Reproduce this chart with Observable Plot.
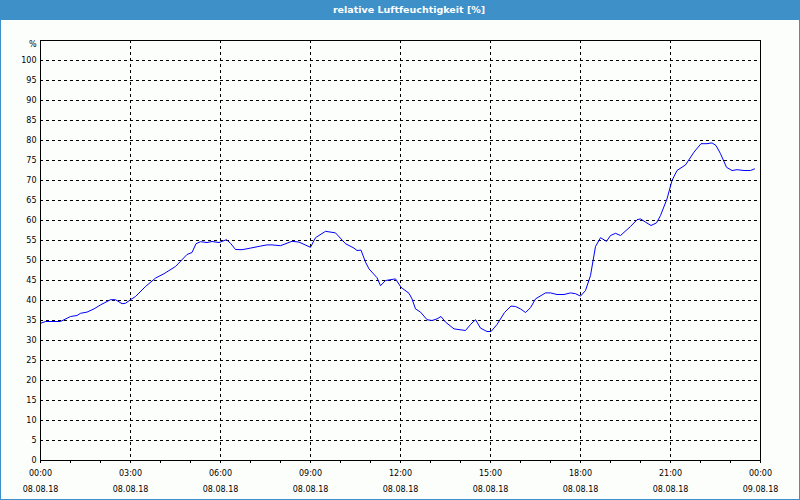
<!DOCTYPE html>
<html>
<head>
<meta charset="utf-8">
<script src="https://cdn.jsdelivr.net/npm/d3@7"></script>
<script src="https://cdn.jsdelivr.net/npm/@observablehq/plot@0.6"></script>
<style>
  html, body { margin: 0; padding: 0; background: #fcfefc; }
  #wrap { position: relative; width: 800px; height: 500px; background: #fcfefc; overflow: hidden; }
  #title { position: absolute; left: 0; top: 0; width: 800px; height: 20px; background: #3d90c8;
           color: #fff; font: bold 9.5px "DejaVu Sans", sans-serif; text-align: center; line-height: 20px; }
  #title span { position: relative; left: 9px; }
  #chart { position: absolute; left: 0; top: 20px; }
  #border { position: absolute; left: 0; top: 0; width: 800px; height: 500px; box-sizing: border-box;
            border: 1px solid #3d90c8; pointer-events: none; }
</style>
</head>
<body>
<div id="wrap">
  <div id="title"><span>relative Luftfeuchtigkeit [%]</span></div>
  <div id="chart"></div>
  <div id="border"></div>
</div>
<script>
// time in minutes after 08.08.18 00:00
const minutes = [0,10,40,60,73,80,93,107,120,140,150,163,170,180,190,210,230,247,270,293,303,311,320,333,343,357,372,380,390,403,420,440,453,463,480,503,517,540,550,570,590,610,627,633,641,650,657,673,680,690,710,721,737,743,750,760,773,783,793,801,810,827,850,860,870,880,893,901,913,928,941,950,960,970,980,990,1010,1020,1033,1047,1060,1070,1080,1090,1100,1110,1120,1132,1140,1150,1160,1180,1193,1200,1210,1221,1232,1240,1253,1263,1273,1290,1307,1321,1333,1343,1351,1360,1372,1383,1393,1407,1420,1428];
const humidity = [34.3,34.75,34.75,36,36.25,36.8,37.1,37.9,38.9,40.2,40.2,39.2,39.3,40.2,41,43.5,45.6,46.7,48.5,51.5,52,54.2,54.7,54.5,54.75,54.5,55.2,54.3,52.75,52.7,53.1,53.6,53.9,53.9,53.7,54.8,54.6,53.3,55.7,57.3,56.9,54.2,53.1,52.5,52.6,49.6,47.9,45.7,43.7,45,45.4,43.3,41.8,40.4,37.9,37.1,35.2,35,35.4,36,34.6,32.9,32.5,34,35.2,33.1,32.25,32.25,34,37,38.6,38.5,37.9,37,38.2,40.4,41.9,41.9,41.5,41.5,41.9,41.7,41.1,42.5,46.25,53.5,55.7,54.8,56.25,56.8,56.25,58.5,60.2,60.4,59.6,58.75,59.4,61.25,65.4,70,72.5,73.9,77.1,79.2,79.2,79.4,78.75,76.7,73.3,72.5,72.7,72.5,72.5,72.9];

const majorTicks = [0,180,360,540,720,900,1080,1260,1440];
const timeLabels = ["00:00","03:00","06:00","09:00","12:00","15:00","18:00","21:00","00:00"];
const dateLabels = ["08.08.18","08.08.18","08.08.18","08.08.18","08.08.18","08.08.18","08.08.18","08.08.18","09.08.18"];
const hourTicks = d3.range(0, 1441, 60);
const yTicks = d3.range(0, 101, 5);
const yUnit = "%";

const data = minutes.map((m, i) => ({m, v: humidity[i]}));

const chart = Plot.plot({
  width: 800,
  height: 480,
  marginLeft: 40,
  marginRight: 40,
  marginTop: 20,
  marginBottom: 40,
  style: {background: "transparent", fontFamily: "DejaVu Sans, sans-serif", fontSize: "8px", color: "#000"},
  x: {type: "linear", domain: [0, 1440]},
  y: {domain: [0, 105]},
  marks: [
    Plot.ruleY(yTicks.filter(d => d > 0), {stroke: "#000", strokeDasharray: "3,3", strokeWidth: 1}),
    Plot.ruleX(majorTicks.slice(1, -1), {stroke: "#000", strokeDasharray: "3,3", strokeWidth: 1}),
    Plot.axisY({ticks: yTicks, tickSize: 0, tickPadding: 4, tickFormat: d => String(d), label: null, fill: "#000"}),
    Plot.text([yUnit], {x: 0, y: 104, text: d => d, textAnchor: "end", dx: -4, fill: "#000"}),
    Plot.axisX({ticks: hourTicks, tickSize: 3, tickFormat: () => "", label: null}),
    Plot.text(majorTicks, {x: d => d, y: 0, text: (d, i) => timeLabels[i], dy: 13, fill: "#000"}),
    Plot.text(majorTicks, {x: d => d, y: 0, text: (d, i) => dateLabels[i], dy: 29, fill: "#000"}),
    Plot.line(data, {x: "m", y: "v", stroke: "#0000ff", strokeWidth: 1}),
    Plot.frame({stroke: "#000", strokeWidth: 1})
  ]
});
document.getElementById("chart").appendChild(chart);
</script>
</body>
</html>
